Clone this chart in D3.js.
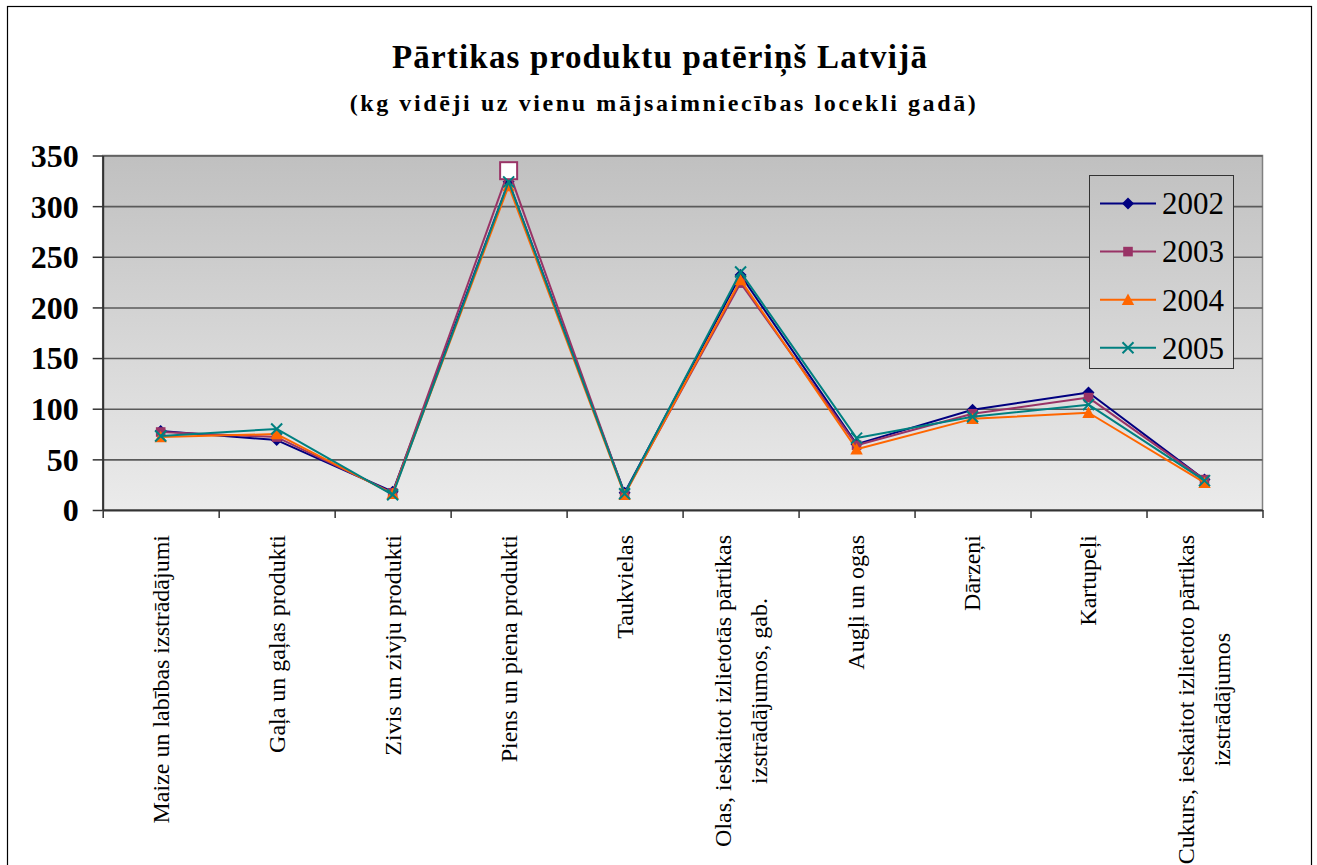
<!DOCTYPE html>
<html>
<head>
<meta charset="utf-8">
<script src="https://cdn.jsdelivr.net/npm/d3@7"></script>
<style>
  html, body { margin: 0; padding: 0; background: #fff; }
  svg { display: block; }
  text { font-family: "Liberation Serif", "Times New Roman", serif; fill: #000; }
</style>
</head>
<body>
<svg id="chart" width="1317" height="865"></svg>
<script>
// ---- data ----
const categories = [
  "Maize un labības izstrādājumi",
  "Gaļa un gaļas produkti",
  "Zivis un zivju produkti",
  "Piens un piena produkti",
  "Taukvielas",
  "Olas, ieskaitot izlietotās pārtikas\nizstrādājumos, gab.",
  "Augļi un ogas",
  "Dārzeņi",
  "Kartupeļi",
  "Cukurs, ieskaitot izlietoto pārtikas\nizstrādājumos"
];
const seriesNames = ["2002", "2003", "2004", "2005"];
const values2002 = [78, 69, 18, 324, 17, 232, 65, 99, 116, 30];
const values2003 = [77, 72, 17, 335, 16, 224, 64, 95, 111, 30];
const values2004 = [72, 75, 16, 320, 15, 227, 60, 90, 96, 27];
const values2005 = [73, 80, 15, 324, 16, 235, 71, 92, 104, 29];
const yTicks = [0, 50, 100, 150, 200, 250, 300, 350];
const titleText = "Pārtikas produktu patēriņš Latvijā";
const subtitleText = "(kg vidēji uz vienu mājsaimniecības locekli gadā)";

(function () {
const seriesValues = [values2002, values2003, values2004, values2005];
const colors = ["#000080", "#993366", "#FF6600", "#008080"];
const shapes = ["diamond", "square", "triangle", "x"];

// ---- layout ----
const svg = d3.select("#chart");
const pLeft = 102.7, pRight = 1262.5, pTop = 155.5, pBottom = 510;

// outer border
svg.append("rect").attr("x", 7.5).attr("y", 6.5).attr("width", 1304).attr("height", 870)
  .attr("fill", "#fff").attr("stroke", "#000").attr("stroke-width", 1.2);

const defs = svg.append("defs");
const grad = defs.append("linearGradient").attr("id", "bg")
  .attr("gradientUnits", "userSpaceOnUse")
  .attr("x1", 0).attr("y1", pTop).attr("x2", 0).attr("y2", pBottom);
grad.append("stop").attr("offset", "0%").attr("stop-color", "#c0c0c0");
grad.append("stop").attr("offset", "100%").attr("stop-color", "#ebebeb");

const x = d3.scaleBand().domain(categories).range([pLeft, pRight]).padding(0);
const xc = c => x(c) + x.bandwidth() / 2;
const xEdges = d3.scaleLinear().domain([0, categories.length]).range([pLeft, pRight]);
const y = d3.scaleLinear().domain([0, 350]).range([pBottom, pTop]);

// plot background
svg.append("rect").attr("x", pLeft).attr("y", pTop).attr("width", pRight - pLeft).attr("height", pBottom - pTop)
  .attr("fill", "url(#bg)").attr("stroke", "#808080").attr("stroke-width", 1.5);

// gridlines
const grid = svg.append("g").attr("transform", `translate(${pLeft},0)`)
  .call(d3.axisLeft(y).tickValues(yTicks.filter(v => v > 0)).tickSize(-(pRight - pLeft)).tickFormat(""));
grid.select(".domain").remove();
grid.selectAll("line").attr("stroke", "#5a5a5a").attr("stroke-width", 1.6);

// y axis
const yAxis = svg.append("g").attr("transform", `translate(${pLeft},0)`)
  .call(d3.axisLeft(y).tickValues(yTicks).tickSize(10).tickPadding(14).tickSizeOuter(0));
yAxis.select(".domain").attr("stroke", "#333").attr("stroke-width", 2);
yAxis.selectAll("line").attr("stroke", "#333").attr("stroke-width", 1.5);
yAxis.selectAll("text").attr("font-family", "Liberation Serif").attr("font-weight", "bold")
  .attr("font-size", 32).attr("dy", "0.34em").attr("fill", "#000");

// x axis
const xAxis = svg.append("g").attr("transform", `translate(0,${pBottom})`)
  .call(d3.axisBottom(xEdges).tickValues(d3.range(categories.length + 1)).tickSize(8).tickFormat("").tickSizeOuter(0));
xAxis.select(".domain").attr("stroke", "#333").attr("stroke-width", 2);
xAxis.selectAll("line").attr("stroke", "#333").attr("stroke-width", 1.5);

// x labels (rotated, multiline, centred lines)
const labelTop = 535, lineH = 36, labelFont = 24;
categories.forEach(c => {
  const lines = c.split("\n");
  const g = svg.append("g");
  const t = g.append("text").attr("font-size", labelFont).attr("text-anchor", "middle");
  lines.forEach((ln, i) => t.append("tspan").attr("x", 0).attr("y", (i - (lines.length - 1) / 2) * lineH).text(ln));
  let maxLen = 0;
  t.selectAll("tspan").each(function () { maxLen = Math.max(maxLen, this.getComputedTextLength()); });
  const cy = labelTop + maxLen / 2;
  g.attr("transform", `translate(${xc(c) + labelFont * 0.33},${cy}) rotate(-90)`);
});

// marker drawing
function drawMarker(sel, shape, color, cx, cy, s) {
  s = s || 1;
  if (shape === "diamond") {
    const r = 6 * s;
    sel.append("path").attr("d", `M${cx},${cy - r}L${cx + r},${cy}L${cx},${cy + r}L${cx - r},${cy}Z`).attr("fill", color);
  } else if (shape === "square") {
    const h = 4.8 * s;
    sel.append("rect").attr("x", cx - h).attr("y", cy - h).attr("width", 2 * h).attr("height", 2 * h).attr("fill", color);
  } else if (shape === "triangle") {
    const h = 6.2 * s;
    sel.append("path").attr("d", `M${cx},${cy - h}L${cx + h},${cy + h * 0.85}L${cx - h},${cy + h * 0.85}Z`).attr("fill", color);
  } else if (shape === "x") {
    const h = 5.5 * s;
    sel.append("path").attr("d", `M${cx - h},${cy - h}L${cx + h},${cy + h}M${cx - h},${cy + h}L${cx + h},${cy - h}`)
      .attr("stroke", color).attr("stroke-width", 2).attr("fill", "none");
  }
}

// series
const line = d3.line().x(d => xc(d.c)).y(d => y(d.v));
seriesValues.forEach((vals, si) => {
  const data = vals.map((v, i) => ({ c: categories[i], v }));
  const g = svg.append("g");
  g.append("path").datum(data).attr("d", line).attr("fill", "none")
    .attr("stroke", colors[si]).attr("stroke-width", 2).attr("stroke-linejoin", "round");
  data.forEach((d, i) => {
    if (si === 1 && i === 3) {
      g.append("rect").attr("x", xc(d.c) - 8.5).attr("y", y(d.v) - 8.5).attr("width", 17).attr("height", 17)
        .attr("fill", "#fff").attr("stroke", colors[si]).attr("stroke-width", 2);
    } else {
      drawMarker(g, shapes[si], colors[si], xc(d.c), y(d.v));
    }
  });
});

// legend
const lg = svg.append("g");
lg.append("rect").attr("x", 1089.5).attr("y", 175.5).attr("width", 144).attr("height", 193)
  .attr("fill", "url(#bg)").attr("stroke", "#333").attr("stroke-width", 1);
seriesNames.forEach((n, i) => {
  const cy = 203.5 + i * 48.1;
  lg.append("line").attr("x1", 1100).attr("x2", 1156).attr("y1", cy).attr("y2", cy)
    .attr("stroke", colors[i]).attr("stroke-width", 2);
  drawMarker(lg, shapes[i], colors[i], 1128, cy);
  lg.append("text").attr("x", 1162).attr("y", cy).attr("dy", "0.35em").attr("font-size", 31).text(n);
});

// titles
svg.append("text").attr("x", 660).attr("y", 68).attr("text-anchor", "middle")
  .attr("font-weight", "bold").attr("font-size", 33).attr("letter-spacing", 1.2).text(titleText);
svg.append("text").attr("x", 664).attr("y", 111).attr("text-anchor", "middle")
  .attr("font-weight", "bold").attr("font-size", 24).attr("letter-spacing", 2.6).text(subtitleText);
})();
</script>
</body>
</html>
